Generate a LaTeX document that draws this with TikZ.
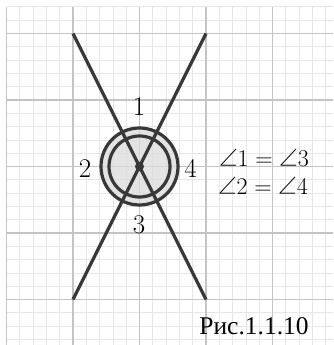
\RequirePackage{fix-cm}
\documentclass[tikz,border=0pt]{standalone}
\usepackage{fontspec}
\newfontfamily\capfont{Liberation Serif}
\newfontfamily\angfont{Latin Modern Math}
\newcommand\myang{\mathord{\hbox{\angfont ∠}}}
\definecolor{minorgrid}{HTML}{E6E6E6}
\definecolor{majorgrid}{HTML}{C4C4C4}
\definecolor{ink}{HTML}{383838}
\definecolor{discfill}{HTML}{DCDCDC}
\begin{document}
\begin{tikzpicture}[x=1pt,y=-1pt,
  minorline/.style={draw=minorgrid,line width=0.8pt},
  majorline/.style={draw=majorgrid,line width=1.1pt},
  ray/.style={draw=ink,line width=3.2pt},
  ring/.style={draw=ink,line width=3.2pt},
  lbl/.style={font=\fontsize{27}{31}\selectfont,inner sep=0pt},
  eqn/.style={font=\fontsize{24}{28}\selectfont,inner sep=0pt}]
\useasboundingbox (0,0) rectangle (333,345);
\fill[white] (0,0) rectangle (333,345);
% minor grid
\foreach \i in {0,...,24} {
  \draw[minorline] ({6.5+13.3*\i},6.9) -- ({6.5+13.3*\i},345);
  \draw[minorline] (6.5,{6.9+13.3*\i}) -- (333,{6.9+13.3*\i});
}
\draw[minorline] (6.5,{6.9+13.3*25}) -- (333,{6.9+13.3*25});
% major grid
\foreach \x in {6.5,73,139.5,206,272.5} \draw[majorline] (\x,6.9) -- (\x,345);
\foreach \y in {33.5,100,166.5,233,299.5} \draw[majorline] (6.5,\y) -- (333,\y);
% geometry
\coordinate (O) at (139.5,166.5);
\coordinate (A) at (73,33.5);
\coordinate (B) at (206,299.5);
\coordinate (C) at (206,33.5);
\coordinate (D) at (73,299.5);
\fill[discfill,fill opacity=0.75] (O) circle[radius=38.5];
\draw[ring] (O) circle[radius=38.5];
\draw[ring] (O) circle[radius=30.5];
\draw[ray] (A) -- (B);
\draw[ray] (C) -- (D);
\fill[ink] (O) circle[radius=4.5];
% labels
\node[lbl] (l1) at (139,107) {$1$};
\node[lbl] (l2) at (85,169) {$2$};
\node[lbl] (l4) at (190.5,169) {$4$};
\node[lbl] (l3) at (139,225) {$3$};
\node[eqn] (e1) at (264,157.5) {$\myang 1=\myang 3$};
\node[eqn] (e2) at (263,185.5) {$\myang 2=\myang 4$};
\node[inner sep=0pt,font=\capfont\fontsize{25.5}{30}\selectfont] (cap) at (254,326) {Рис.1.1.10};
\end{tikzpicture}
\end{document}
